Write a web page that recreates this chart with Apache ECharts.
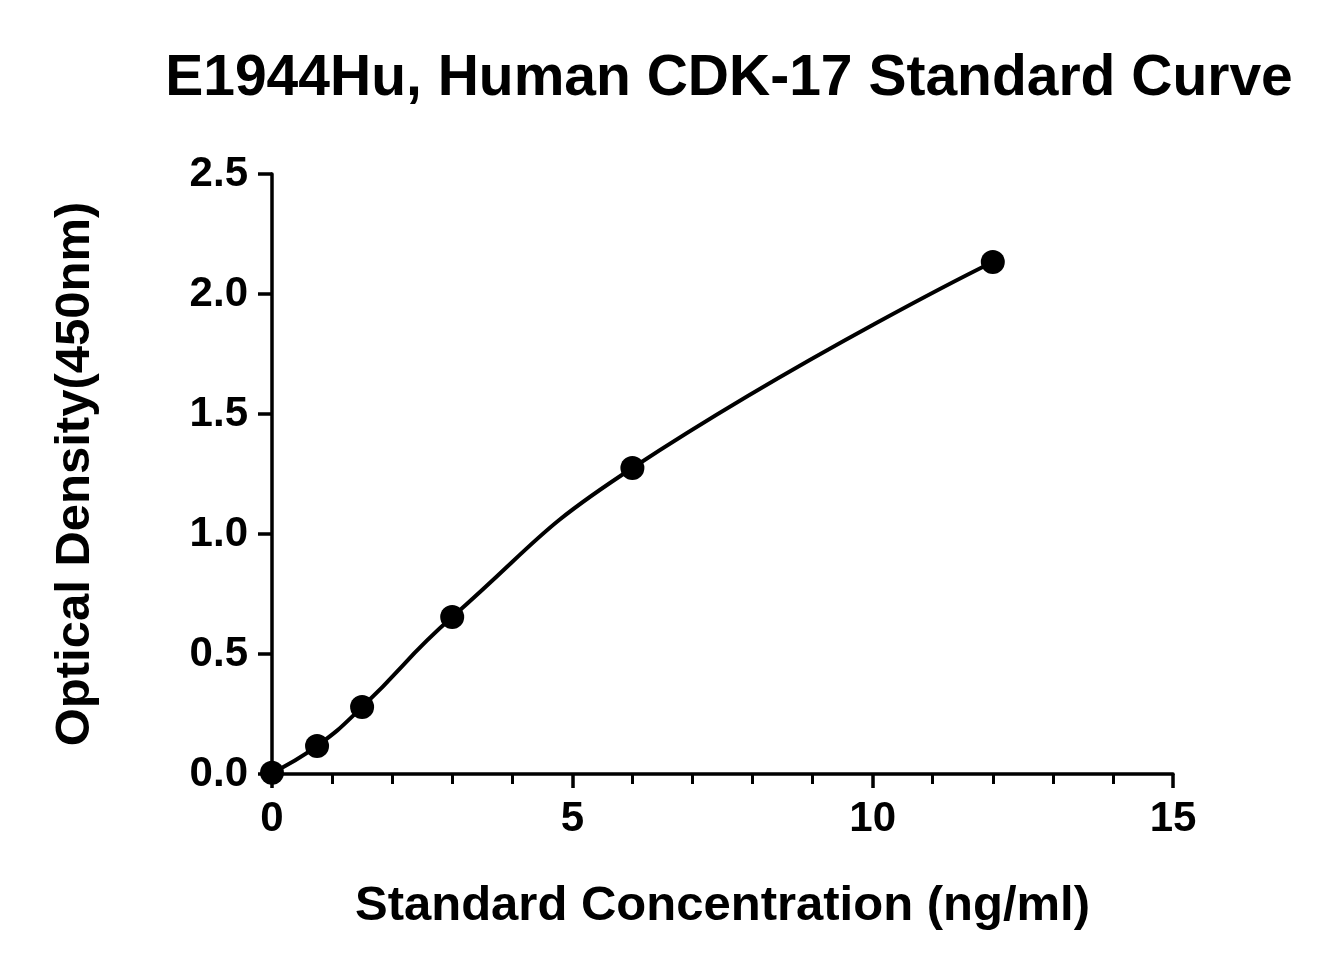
<!DOCTYPE html>
<html>
<head>
<meta charset="utf-8">
<script src="https://cdn.jsdelivr.net/npm/echarts@6/dist/echarts.min.js"></script>
<style>html,body{margin:0;padding:0;background:#fff}#chart{width:1341px;height:975px}</style>
</head>
<body>
<div id="chart"></div>
<script>
const concentration = [0, 0.75, 1.5, 3, 6, 12];
const density = [0.005, 0.117, 0.279, 0.654, 1.275, 2.133];

const chart = echarts.init(document.getElementById("chart"));
const font = "Liberation Sans";
const points = concentration.map((c, i) => [c, density[i]]);

const option = {
	backgroundColor: "#fff",
	title: {
		text: "E1944Hu, Human CDK-17 Standard Curve",
		left: 724,
		top: 46,
		textAlign: "center",
		textStyle: { fontFamily: font, fontWeight: "bold", fontSize: 57, color: "#000" }
	},
	grid: { left: 272, right: 168, top: 174, bottom: 201 },
	xAxis: {
		type: "value",
		min: 0, max: 15, interval: 5,
		name: "Standard Concentration (ng/ml)",
		nameLocation: "middle",
		nameGap: 108,
		nameTextStyle: { fontFamily: font, fontWeight: "bold", fontSize: 49, color: "#000" },
		axisLine: { lineStyle: { color: "#000", width: 3.5 } },
		axisTick: { length: 14, lineStyle: { color: "#000", width: 3.5 } },
		minorTick: { show: true, splitNumber: 5, length: 10, lineStyle: { color: "#000", width: 3 } },
		axisLabel: { fontFamily: font, fontWeight: "bold", fontSize: 42, color: "#000", margin: 24 },
		splitLine: { show: false }
	},
	yAxis: {
		type: "value",
		min: 0, max: 2.5, interval: 0.5,
		name: "Optical Density(450nm)",
		nameLocation: "middle",
		nameGap: 172,
		nameTextStyle: { fontFamily: font, fontWeight: "bold", fontSize: 49, color: "#000" },
		axisLine: { show: true, lineStyle: { color: "#000", width: 3.5 } },
		axisTick: { show: true, length: 14, lineStyle: { color: "#000", width: 3.5 } },
		axisLabel: { fontFamily: font, fontWeight: "bold", fontSize: 42, color: "#000", margin: 24,
			formatter: v => v.toFixed(1) },
		splitLine: { show: false }
	},
	series: [{
		type: "line",
		data: points,
		smooth: 0.5,
		symbol: "circle",
		symbolSize: 24,
		itemStyle: { color: "#000" },
		lineStyle: { color: "#000", width: 4 }
	}]
};

chart.setOption(option);
window.onresize = chart.resize;
</script>
</body>
</html>
